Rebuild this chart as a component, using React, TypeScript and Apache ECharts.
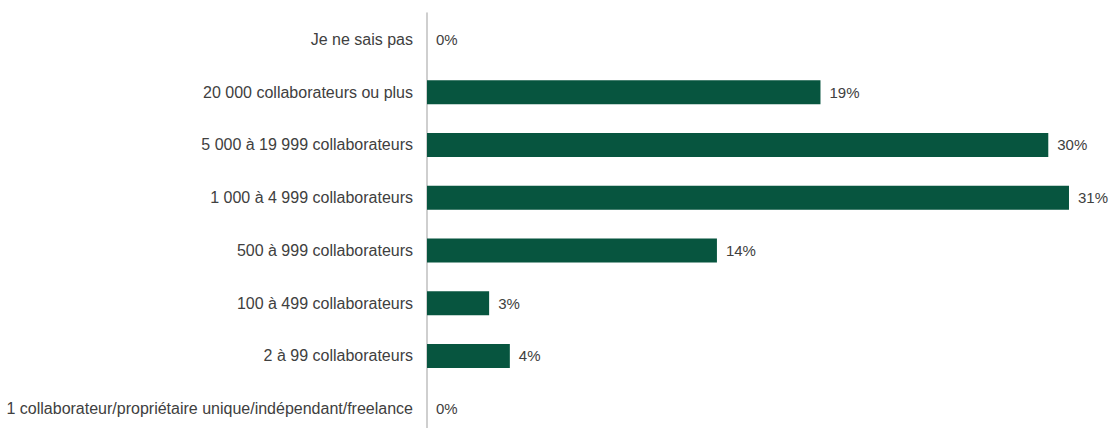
import React, { useEffect, useRef } from "react";
import * as echarts from "echarts";

const categories = [
  "Je ne sais pas",
  "20 000 collaborateurs ou plus",
  "5 000 à 19 999 collaborateurs",
  "1 000 à 4 999 collaborateurs",
  "500 à 999 collaborateurs",
  "100 à 499 collaborateurs",
  "2 à 99 collaborateurs",
  "1 collaborateur/propriétaire unique/indépendant/freelance",
];
const values = [0, 19, 30, 31, 14, 3, 4, 0];

const FONT = "'Liberation Sans', Arial, sans-serif";

export default function App() {
  const ref = useRef<HTMLDivElement>(null);
  useEffect(() => {
    if (!ref.current) return;
    const chart = echarts.init(ref.current, undefined, { renderer: "svg" });
    chart.setOption({
      animation: false,
      backgroundColor: "#ffffff",
      grid: { left: 427, right: 22.3, top: 13, bottom: 0, containLabel: false },
      xAxis: {
        type: "value",
        min: 0,
        max: 32,
        show: false,
        splitLine: { show: false },
      },
      yAxis: {
        type: "category",
        data: categories,
        inverse: true,
        axisLine: { show: true, lineStyle: { color: "#bfbfbf", width: 1.5 } },
        axisTick: { show: false },
        axisLabel: {
          margin: 14,
          color: "#404040",
          fontSize: 16,
          fontFamily: FONT,
        },
      },
      series: [
        {
          type: "bar",
          data: values,
          barWidth: 24,
          itemStyle: { color: "#07553f" },
          label: {
            show: true,
            position: "right",
            distance: 9,
            formatter: "{c}%",
            color: "#404040",
            fontSize: 15,
            fontFamily: FONT,
          },
        },
      ],
    });
    return () => chart.dispose();
  }, []);
  return (
    <div
      ref={ref}
      style={{ position: "fixed", left: 0, top: 0, width: 1112, height: 435 }}
    />
  );
}
